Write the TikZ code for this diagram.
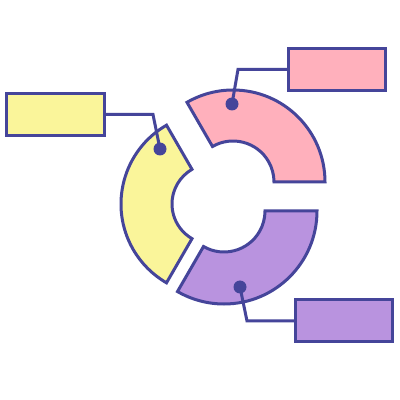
\documentclass[tikz,border=0pt]{standalone}
\usetikzlibrary{calc}
\definecolor{ink}{HTML}{45459A}
\definecolor{pinkf}{HTML}{FFB0BC}
\definecolor{yelf}{HTML}{FAF59A}
\definecolor{purf}{HTML}{B993DF}
\tikzset{
  seg/.style={draw=ink, line width=3pt, line join=miter},
  box/.style={draw=ink, line width=3pt, rectangle, minimum width=97pt, minimum height=42pt, inner sep=0pt},
  dotn/.style={circle, fill=ink, minimum size=13pt, inner sep=0pt},
  link/.style={draw=ink, line width=3pt, line join=miter}
}
\begin{document}
\begin{tikzpicture}[x=1pt,y=1pt]
\useasboundingbox (0,0) rectangle (400,400);
% segments
\fill[white] (0,0) rectangle (400,400);
\draw[seg, fill=pinkf, shift={(233,218)}] (0:41pt) -- (0:92pt) arc[start angle=0,end angle=120,radius=92pt] -- (120:41pt) arc[start angle=120,end angle=0,radius=41pt] -- cycle;
\draw[seg, fill=purf, shift={(224,189)}] (0:41pt) -- (0:93pt) arc[start angle=0,end angle=-120,radius=93pt] -- (-120:41pt) arc[start angle=-120,end angle=0,radius=41pt] -- cycle;
\draw[seg, fill=yelf, shift={(212,196)}] (120:40pt) -- (120:91pt) arc[start angle=120,end angle=240,radius=91pt] -- (240:40pt) arc[start angle=240,end angle=120,radius=40pt] -- cycle;
% boxes
\node[box, fill=pinkf] (pbox) at (337,330.5) {};
\node[box, fill=yelf, minimum width=98pt] (ybox) at (55.5,285.5) {};
\node[box, fill=purf] (ubox) at (344,79) {};
% dots
\node[dotn] (pdot) at (232,296) {};
\node[dotn] (ydot) at (160,251) {};
\node[dotn] (udot) at (240,113) {};
% bends
\coordinate (pk) at (238,330.5);
\coordinate (yk) at (153,285.5);
\coordinate (uk) at (247,79);
% connectors
\draw[link] (pdot.center) -- (pk) -- (pbox.west);
\draw[link] (ydot.center) -- (yk) -- (ybox.east);
\draw[link] (udot.center) -- (uk) -- (ubox.west);
\end{tikzpicture}
\end{document}
